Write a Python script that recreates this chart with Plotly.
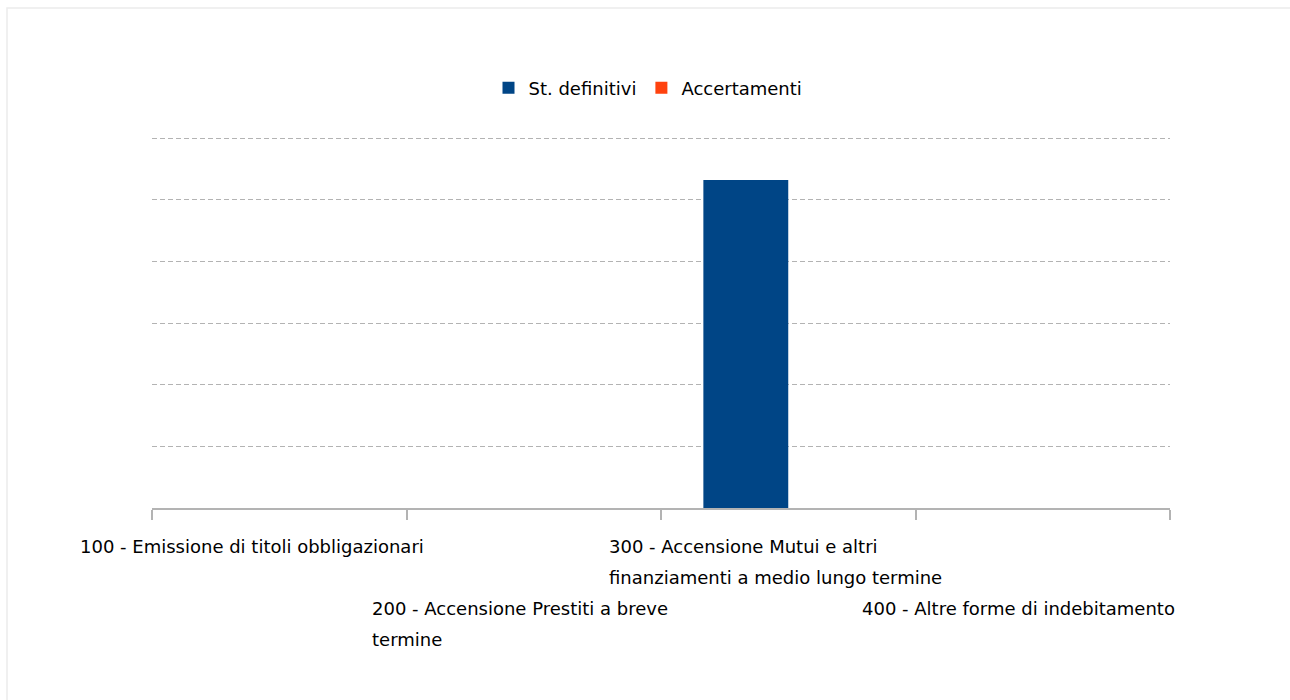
import plotly.graph_objects as go

categories = ["100", "200", "300", "400"]
label_lines = [
    ["100 - Emissione di titoli obbligazionari"],
    ["200 - Accensione Prestiti a breve", "termine"],
    ["300 - Accensione Mutui e altri", "finanziamenti a medio lungo termine"],
    ["400 - Altre forme di indebitamento"],
]
label_rows = [0, 2, 0, 2]          # staggered rows of the category labels
label_xshift = [-201, -164, -181, -183]  # left edge of each label block, px from category centre
st_definitivi = [0, 0, 5.32, 0]
accertamenti = [0, 0, 0, 0]
y_ticks = [0, 1, 2, 3, 4, 5, 6]

FONT = "DejaVu Sans"
FS = 18

fig = go.Figure()
fig.add_trace(go.Bar(x=categories, y=st_definitivi, name="St. definitivi",
                     marker_color="#004586", marker_line_width=0))
fig.add_trace(go.Bar(x=categories, y=accertamenti, name="Accertamenti",
                     marker_color="#ff420e", marker_line_width=0))

annotations = []
for i, lines in enumerate(label_lines):
    for j, line in enumerate(lines):
        annotations.append(dict(
            x=i, xref="x", y=0, yref="paper", text=line, showarrow=False,
            xanchor="left", yanchor="middle", xshift=label_xshift[i],
            yshift=-(38 + 31 * (label_rows[i] + j)),
            font=dict(family=FONT, size=FS, color="#000000"),
        ))

plot_h = 372
fig.update_layout(
    width=1290, height=700,
    margin=dict(l=152, r=120, t=136, b=192),
    paper_bgcolor="white", plot_bgcolor="white",
    barmode="group", bargap=0.333, bargroupgap=0,
    font=dict(family=FONT, size=FS, color="#000000"),
    showlegend=True,
    legend=dict(orientation="h", x=(648 - 152) / 1018, xanchor="center",
                y=(508 - 88) / plot_h, yanchor="middle",
                font=dict(family=FONT, size=FS), itemwidth=30,
                bgcolor="rgba(0,0,0,0)"),
    annotations=annotations,
    shapes=[dict(type="rect", xref="paper", yref="paper",
                 x0=(7 - 152) / 1018, x1=(1300 - 152) / 1018,
                 y0=(508 - 710) / plot_h, y1=(508 - 8) / plot_h,
                 line=dict(color="#ececec", width=1.5), fillcolor="rgba(0,0,0,0)", layer="below")],
)
fig.update_xaxes(type="category", showticklabels=False, ticks="outside", tickson="boundaries",
                 ticklen=10, tickcolor="#b3b3b3", tickwidth=1.5,
                 showline=True, linecolor="#b3b3b3", linewidth=1.5, showgrid=False,
                 range=[-0.5, 3.5])
fig.update_yaxes(range=[0, 6 * plot_h / 370], tickvals=y_ticks, showticklabels=False, showgrid=True,
                 gridcolor="#b3b3b3", griddash="5px,3px", gridwidth=1, zeroline=False,
                 showline=False, ticks="")

fig.write_html("out.html")
